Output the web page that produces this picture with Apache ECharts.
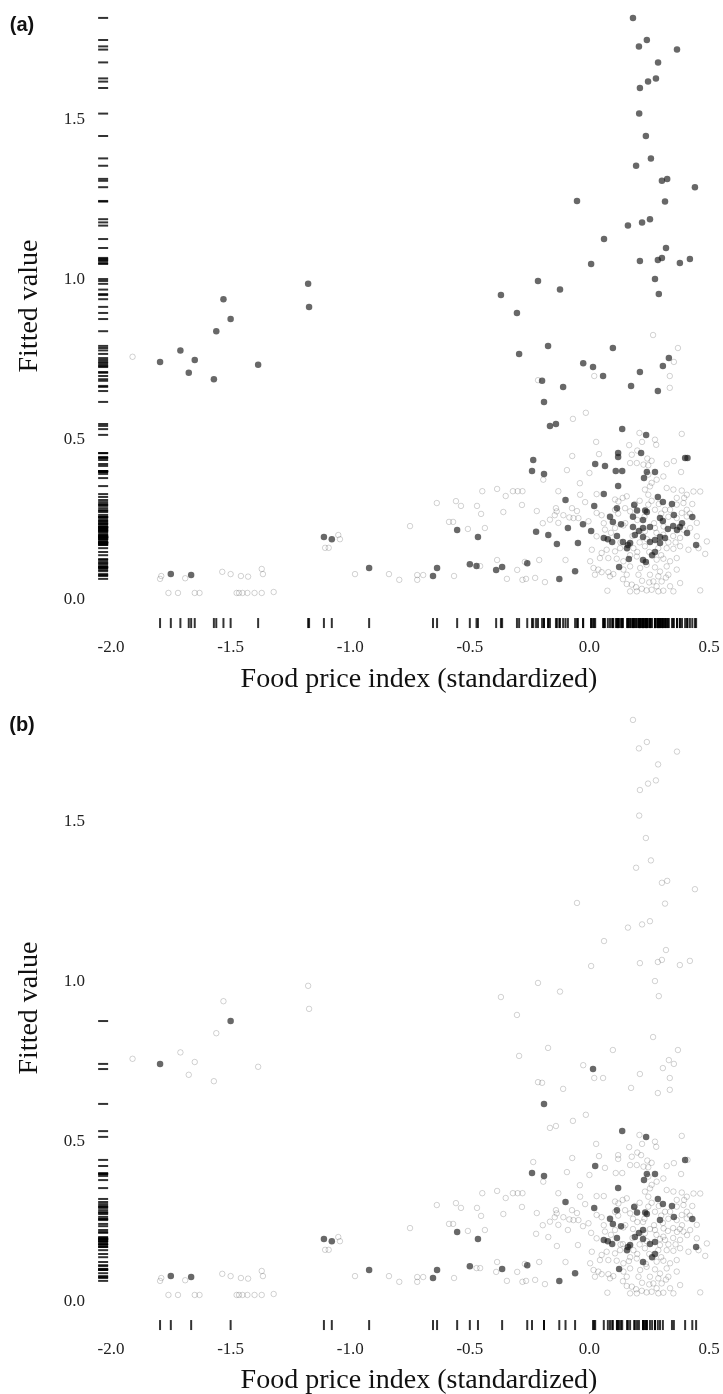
<!DOCTYPE html>
<html>
<head>
<meta charset="utf-8">
<title>Fitted value vs food price index</title>
<script src="https://cdn.jsdelivr.net/npm/echarts@6/dist/echarts.min.js"></script>
<style>
  html, body { margin: 0; padding: 0; background: #fff; }
  #chart { width: 723px; height: 1394px; }
</style>
</head>
<body>
<div id="chart"></div>
<script>
// tick labels
const xTicks = [-2.0, -1.5, -1.0, -0.5, 0.0, 0.5]
const yTicks = [0.0, 0.5, 1.0, 1.5]

// [food price index, fitted value] - black in both panels
const blackBoth = [
  [-1.795, 0.744], [-1.50, 0.878], [-1.75, 0.081], [-1.665, 0.078], [-1.11, 0.197], [-1.077, 0.19],
  [-0.921, 0.10], [-0.654, 0.075], [-0.637, 0.10], [-0.553, 0.219], [-0.50, 0.112], [-0.466, 0.197],
  [-0.365, 0.103], [-0.26, 0.115], [-0.126, 0.066], [-0.10, 0.3125], [-0.06, 0.09], [0.02, 0.294],
  [0.06, 0.194], [0.015, 0.728], [-0.19, 0.619], [0.137, 0.534], [0.237, 0.516], [-0.24, 0.403],
  [-0.19, 0.394], [0.40, 0.444], [0.024, 0.425], [0.24, 0.40], [0.274, 0.40], [0.228, 0.381],
  [0.12, 0.356], [0.115, 0.287], [0.187, 0.297], [0.199, 0.28], [0.233, 0.28], [0.24, 0.275],
  [0.286, 0.322], [0.307, 0.306], [0.345, 0.30], [0.086, 0.26], [0.098, 0.244], [0.132, 0.237],
  [0.207, 0.216], [0.224, 0.225], [0.295, 0.256], [0.353, 0.266], [0.43, 0.259], [0.446, 0.172],
  [0.077, 0.19], [0.095, 0.181], [0.115, 0.20], [0.157, 0.162], [0.161, 0.172], [0.17, 0.178],
  [0.19, 0.203], [0.224, 0.197], [0.253, 0.181], [0.274, 0.1875], [0.262, 0.14], [0.274, 0.15],
  [0.224, 0.125], [0.124, 0.103]
]

// black in (a) only, grey in (b)
const blackOnlyA = [
  [-1.71, 0.78], [-1.675, 0.71], [-1.65, 0.75], [-1.57, 0.69], [-1.56, 0.84], [-1.53, 0.94],
  [-1.385, 0.735], [-1.176, 0.988], [-1.172, 0.916], [-0.472, 0.106], [-0.39, 0.094], [-0.223, 0.213],
  [-0.172, 0.203], [-0.136, 0.175], [-0.09, 0.225], [-0.048, 0.178], [-0.027, 0.237], [0.007, 0.216],
  [0.06, 0.331],
  [0.182, 1.819], [0.207, 1.73], [0.24, 1.75], [0.366, 1.72], [0.287, 1.68], [0.211, 1.60],
  [0.245, 1.62], [0.278, 1.63], [0.208, 1.52], [0.236, 1.45], [0.257, 1.38], [0.195, 1.357],
  [0.303, 1.31], [0.325, 1.316], [0.441, 1.29], [0.316, 1.245], [-0.052, 1.247], [0.161, 1.17],
  [0.22, 1.18], [0.253, 1.19], [0.061, 1.128], [0.32, 1.10], [0.007, 1.05], [0.211, 1.059],
  [0.286, 1.0625], [0.303, 1.069], [0.378, 1.053], [0.42, 1.066], [0.274, 1.003], [0.29, 0.956],
  [-0.215, 0.997], [-0.123, 0.97], [-0.37, 0.953], [-0.303, 0.897],
  [-0.294, 0.769], [-0.173, 0.794], [0.098, 0.7875], [-0.026, 0.74], [0.057, 0.70], [-0.198, 0.685],
  [-0.11, 0.666], [0.211, 0.7125], [0.307, 0.731], [0.332, 0.756], [0.174, 0.669], [0.286, 0.653],
  [-0.165, 0.544], [-0.14, 0.55], [-0.235, 0.4375], [0.12, 0.459], [0.12, 0.447], [0.216, 0.459],
  [0.41, 0.444], [0.065, 0.419], [0.11, 0.403], [0.137, 0.403],
  [0.224, 0.25], [0.182, 0.26], [0.182, 0.228], [0.253, 0.228], [0.307, 0.247], [0.328, 0.222],
  [0.35, 0.231], [0.366, 0.219], [0.387, 0.24], [0.378, 0.228], [0.408, 0.209], [0.14, 0.181],
  [0.295, 0.197], [0.295, 0.178], [0.316, 0.194], [0.236, 0.119], [0.165, 0.128]
]

// grey in both panels
const greyAll = [
  [-1.91, 0.76], [-1.79, 0.075], [-1.795, 0.066], [-1.69, 0.068], [-1.76, 0.022], [-1.72, 0.022],
  [-1.65, 0.022], [-1.63, 0.022], [-1.535, 0.088], [-1.50, 0.081], [-1.457, 0.075], [-1.427, 0.073],
  [-1.37, 0.097], [-1.365, 0.081], [-1.475, 0.022], [-1.465, 0.022], [-1.45, 0.022], [-1.43, 0.022],
  [-1.40, 0.022], [-1.37, 0.022], [-1.32, 0.025], [-1.05, 0.203], [-1.043, 0.19], [-1.105, 0.163],
  [-1.09, 0.163], [-0.98, 0.081],
  [-0.838, 0.081], [-0.795, 0.063], [-0.72, 0.078], [-0.695, 0.078], [-0.72, 0.063], [-0.566, 0.075],
  [-0.457, 0.106], [-0.75, 0.231], [-0.508, 0.222], [-0.437, 0.225], [-0.587, 0.244], [-0.57, 0.244],
  [-0.638, 0.303], [-0.558, 0.309], [-0.537, 0.294], [-0.47, 0.294], [-0.453, 0.269], [-0.448, 0.34],
  [-0.386, 0.347], [-0.386, 0.125], [-0.345, 0.066], [-0.36, 0.275], [-0.35, 0.325], [-0.32, 0.34],
  [-0.30, 0.34], [-0.28, 0.34], [-0.282, 0.297], [-0.302, 0.094], [-0.27, 0.119], [-0.28, 0.063],
  [-0.265, 0.066], [-0.227, 0.069], [-0.186, 0.056], [-0.21, 0.125], [-0.22, 0.278], [-0.195, 0.24],
  [-0.145, 0.265], [-0.10, 0.125], [-0.073, 0.287], [-0.052, 0.278], [-0.015, 0.585], [-0.069, 0.566],
  [-0.215, 0.687], [0.02, 0.70], [0.266, 0.828], [0.37, 0.7875], [0.353, 0.744], [0.336, 0.70],
  [0.336, 0.663], [-0.13, 0.34], [-0.04, 0.365],
  [0.028, 0.494], [0.04, 0.456], [-0.072, 0.45], [-0.094, 0.406], [0.0, 0.397], [0.209, 0.522],
  [0.274, 0.501], [0.279, 0.485], [0.386, 0.519], [0.177, 0.454], [0.20, 0.467], [0.242, 0.442],
  [0.26, 0.435], [0.323, 0.425], [0.17, 0.428], [0.198, 0.428], [0.226, 0.423], [0.246, 0.421],
  [0.246, 0.392], [0.281, 0.376], [0.309, 0.386], [0.383, 0.40], [-0.193, 0.376], [0.26, 0.366],
  [0.353, 0.434], [0.166, 0.484], [0.22, 0.494],
  [-0.039, 0.329], [-0.018, 0.306], [0.03, 0.331], [0.107, 0.314], [0.121, 0.308], [0.139, 0.319],
  [0.156, 0.324], [0.232, 0.345], [0.246, 0.329], [0.253, 0.355], [0.323, 0.35], [0.351, 0.345],
  [0.386, 0.342], [0.407, 0.329], [0.435, 0.339], [0.463, 0.339], [0.365, 0.319], [0.396, 0.319],
  [-0.14, 0.287], [-0.109, 0.265], [-0.084, 0.258], [-0.067, 0.256], [-0.13, 0.241], [-0.165, 0.251],
  [-0.137, 0.277], [-0.046, 0.256], [-0.004, 0.246], [0.03, 0.272], [0.051, 0.265], [0.107, 0.282],
  [0.149, 0.287], [0.17, 0.277], [0.246, 0.298], [0.274, 0.282], [0.316, 0.282], [0.337, 0.282],
  [0.365, 0.298], [0.393, 0.303], [0.407, 0.282], [0.386, 0.272], [0.365, 0.256], [0.449, 0.241],
  [0.407, 0.261],
  [0.03, 0.199], [0.065, 0.22], [0.107, 0.225], [0.142, 0.233], [0.232, 0.215], [0.274, 0.225],
  [0.393, 0.22], [0.421, 0.225], [0.309, 0.204], [0.379, 0.194], [0.449, 0.199], [0.491, 0.183],
  [0.01, 0.157], [0.051, 0.147], [0.072, 0.157], [0.107, 0.152], [0.128, 0.162], [0.184, 0.162],
  [0.232, 0.168], [0.288, 0.162], [0.323, 0.162], [0.351, 0.16], [0.379, 0.168], [0.414, 0.157],
  [0.456, 0.162], [0.484, 0.144], [0.044, 0.131], [0.079, 0.131], [0.114, 0.129], [0.142, 0.121],
  [0.198, 0.136], [0.281, 0.126], [0.309, 0.129], [0.337, 0.121], [0.365, 0.131], [0.003, 0.121],
  [0.017, 0.10], [0.037, 0.095], [0.051, 0.087], [0.079, 0.087], [0.10, 0.081], [0.142, 0.095],
  [0.17, 0.105], [0.212, 0.10], [0.239, 0.11], [0.274, 0.102], [0.295, 0.089], [0.323, 0.105],
  [0.365, 0.095], [0.023, 0.079], [0.086, 0.074], [0.156, 0.079], [0.205, 0.079], [0.253, 0.079],
  [0.288, 0.074], [0.33, 0.079], [0.267, 0.058], [0.302, 0.058],
  [0.156, 0.05], [0.177, 0.048], [0.195, 0.04], [0.219, 0.035], [0.239, 0.03], [0.26, 0.032],
  [0.288, 0.027], [0.309, 0.029], [0.337, 0.043], [0.351, 0.027], [0.198, 0.027], [0.17, 0.027],
  [0.075, 0.029], [0.463, 0.03], [0.379, 0.053], [0.281, 0.043],
  [0.19, 0.30], [0.21, 0.31], [0.26, 0.31], [0.29, 0.30], [0.30, 0.27], [0.33, 0.26],
  [0.20, 0.25], [0.23, 0.26], [0.27, 0.24], [0.31, 0.23], [0.15, 0.24], [0.18, 0.20],
  [0.21, 0.18], [0.24, 0.19], [0.28, 0.21], [0.33, 0.18], [0.36, 0.18], [0.20, 0.15],
  [0.25, 0.15], [0.30, 0.14], [0.17, 0.14], [0.13, 0.18], [0.09, 0.21], [0.35, 0.20],
  [0.42, 0.27], [0.43, 0.30], [0.12, 0.27], [0.06, 0.24], [0.22, 0.06], [0.25, 0.055],
  [0.32, 0.07], [0.14, 0.065]
]

// where the rug marks sit, in data units
const xRugLevel = -0.072
const yRugLevel = -2.033

const serif = 'Liberation Serif, Times New Roman, serif'

const panels = [
  { black: blackBoth.concat(blackOnlyA), grey: greyAll, top: 8 },
  { black: blackBoth, grey: greyAll.concat(blackOnlyA), top: 710 }
]

const makeAxes = (i) => ({
  x: {
    gridIndex: i,
    type: 'value',
    min: -2.1,
    max: 0.55,
    axisLine: { show: false },
    axisTick: { show: false },
    splitLine: { show: false },
    axisLabel: {
      customValues: xTicks,
      formatter: v => v.toFixed(1),
      margin: 7,
      fontFamily: serif,
      fontSize: 17,
      color: '#222'
    }
  },
  y: {
    gridIndex: i,
    type: 'value',
    min: -0.1,
    max: 1.85,
    axisLine: { show: false },
    axisTick: { show: false },
    splitLine: { show: false },
    axisLabel: {
      customValues: yTicks,
      formatter: v => v.toFixed(1),
      margin: 2,
      fontFamily: serif,
      fontSize: 17,
      color: '#222'
    }
  }
})

const makeSeries = (p, i) => [
  {
    type: 'scatter',
    xAxisIndex: i,
    yAxisIndex: i,
    data: p.grey,
    symbol: 'circle',
    symbolSize: 5.5,
    itemStyle: { color: 'rgba(0,0,0,0)', borderColor: 'rgba(0,0,0,0.22)', borderWidth: 1 }
  },
  {
    type: 'scatter',
    xAxisIndex: i,
    yAxisIndex: i,
    data: p.black,
    symbol: 'circle',
    symbolSize: 6.5,
    itemStyle: { color: 'rgba(25,25,25,0.82)' }
  },
  {
    type: 'scatter',
    xAxisIndex: i,
    yAxisIndex: i,
    data: p.black.map(d => [d[0], xRugLevel]),
    symbol: 'rect',
    symbolSize: [2, 10],
    itemStyle: { color: '#000' }
  },
  {
    type: 'scatter',
    xAxisIndex: i,
    yAxisIndex: i,
    data: p.black.map(d => [yRugLevel, d[1]]),
    symbol: 'rect',
    symbolSize: [10, 2],
    itemStyle: { color: '#000' }
  }
]

const labelText = (text, x, y, opts = {}) => ({
  type: 'text',
  x: x,
  y: y,
  rotation: opts.rotation || 0,
  style: {
    text: text,
    font: opts.font,
    fill: '#111',
    textAlign: 'center',
    textVerticalAlign: 'middle'
  }
})

const axes = panels.map((p, i) => makeAxes(i))

const option = {
  animation: false,
  backgroundColor: '#fff',
  grid: panels.map(p => ({ left: 87.1, right: 2, top: p.top, height: 624 })),
  xAxis: axes.map(a => a.x),
  yAxis: axes.map(a => a.y),
  series: panels.flatMap(makeSeries),
  graphic: [
    labelText('(a)', 22, 25, { font: 'bold 20px Liberation Sans, Arial, sans-serif' }),
    labelText('(b)', 22, 725, { font: 'bold 20px Liberation Sans, Arial, sans-serif' }),
    labelText('Fitted value', 30, 306, { font: '28px ' + serif, rotation: Math.PI / 2 }),
    labelText('Fitted value', 30, 1008, { font: '28px ' + serif, rotation: Math.PI / 2 }),
    labelText('Food price index (standardized)', 419, 680, { font: '28px ' + serif }),
    labelText('Food price index (standardized)', 419, 1381, { font: '28px ' + serif })
  ]
}

const chart = echarts.init(document.getElementById('chart'))
chart.setOption(option)
window.addEventListener('resize', () => chart.resize())
</script>
</body>
</html>
